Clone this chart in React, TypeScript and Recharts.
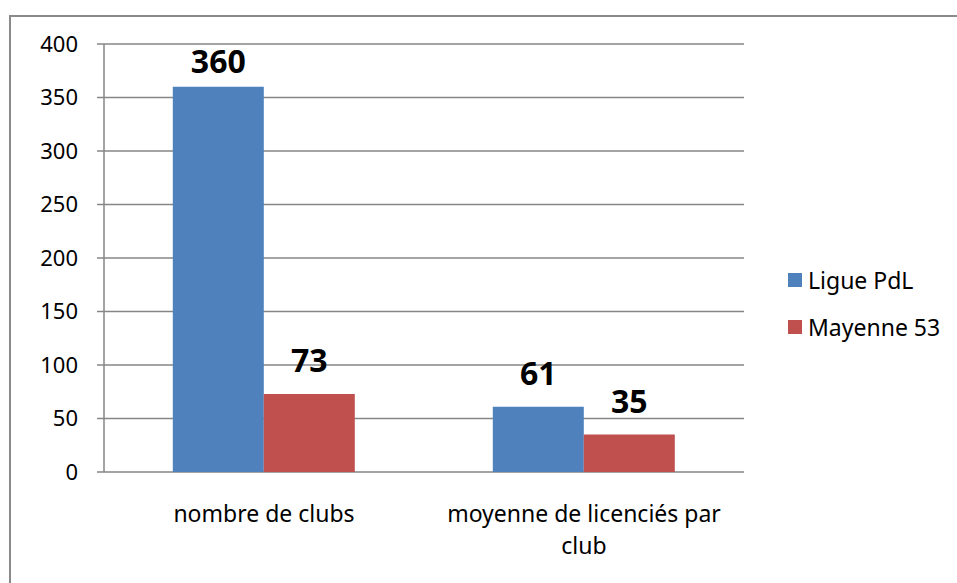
import { BarChart, Bar, XAxis, YAxis, CartesianGrid, LabelList } from "recharts";

const categories = ["nombre de clubs", "moyenne de licenciés par club"];
const liguePdL = [360, 61];
const mayenne53 = [73, 35];
const yTicks = [0, 50, 100, 150, 200, 250, 300, 350, 400];

const BLUE = "#4F81BD";
const RED = "#C0504D";
const GRID = "#868686";
const FONT = "'Noto Sans', sans-serif";
const PLOT_TOP = 44;

const data = categories.map((name, i) => ({
  name,
  idx: i + 0.5,
  ligue: liguePdL[i],
  mayenne: mayenne53[i],
}));

// greedy word wrap, like Excel does for long category names
function wrap(label: string, maxChars: number) {
  const lines: string[] = [];
  let cur = "";
  for (const w of label.split(" ")) {
    const next = cur ? cur + " " + w : w;
    if (next.length > maxChars && cur) {
      lines.push(cur);
      cur = w;
    } else {
      cur = next;
    }
  }
  if (cur) lines.push(cur);
  return lines;
}

const CategoryTick = ({ x, y, payload }: any) => {
  const lines = wrap(String(payload.value), 26);
  return (
    <text x={x} y={y + 42} textAnchor="middle" fontSize={23} fontFamily={FONT} fill="#000">
      {lines.map((l, i) => (
        <tspan key={i} x={x} dy={i === 0 ? 0 : 32}>
          {l}
        </tspan>
      ))}
    </text>
  );
};

// value above the bar; like Excel, kept inside the plot area when the bar is tall
const ValueLabel = ({ x, y, width, value }: any) => {
  const baseline = Math.max(y - 22, PLOT_TOP + 29);
  return (
    <text
      x={x + width / 2}
      y={baseline}
      textAnchor="middle"
      fontSize={32}
      fontWeight="bold"
      fontFamily={FONT}
      fill="#000"
    >
      {value}
    </text>
  );
};

export default function App() {
  return (
    <div style={{ position: "absolute", left: 0, top: 0, width: 957, height: 583, overflow: "hidden", background: "#fff" }}>
      {/* outer frame, only top and left edges are visible */}
      <div
        style={{
          position: "absolute",
          left: 9,
          top: 15,
          width: 1000,
          height: 700,
          borderLeft: "2px solid #8a8a8a",
          borderTop: "2px solid #8a8a8a",
        }}
      />
      <div style={{ position: "absolute", left: 0, top: 0 }}>
        <BarChart
          width={957}
          height={583}
          data={data}
          margin={{ top: PLOT_TOP, right: 213, bottom: 0, left: 0 }}
          barCategoryGap="21.5%"
          barGap={0}
        >
          <CartesianGrid vertical={false} stroke={GRID} strokeWidth={1.5} />
          <XAxis
            dataKey="name"
            interval={0}
            height={111}
            axisLine={false}
            tickLine={false}
            tick={<CategoryTick />}
          />
          {/* second x axis only to draw tick marks at category boundaries */}
          <XAxis
            xAxisId="edges"
            type="number"
            dataKey="idx"
            domain={[0, 2]}
            ticks={[0, 1, 2]}
            height={0}
            tick={false}
            tickSize={8}
            axisLine={{ stroke: GRID, strokeWidth: 1.5 }}
            tickLine={{ stroke: GRID, strokeWidth: 1.5 }}
          />
          <YAxis
            width={104}
            domain={[0, 400]}
            ticks={yTicks}
            interval={0}
            tickSize={7}
            axisLine={{ stroke: GRID, strokeWidth: 1.5 }}
            tickLine={{ stroke: GRID, strokeWidth: 1.5 }}
            tick={{ fontSize: 22, fontFamily: FONT, fill: "#000" }}
            tickMargin={19}
          />
          <Bar dataKey="ligue" fill={BLUE} isAnimationActive={false}>
            <LabelList dataKey="ligue" content={<ValueLabel />} />
          </Bar>
          <Bar dataKey="mayenne" fill={RED} isAnimationActive={false}>
            <LabelList dataKey="mayenne" content={<ValueLabel />} />
          </Bar>
        </BarChart>
      </div>
      {/* legend */}
      {[
        { label: "Ligue PdL", color: BLUE, top: 266 },
        { label: "Mayenne 53", color: RED, top: 313 },
      ].map((item) => (
        <div
          key={item.label}
          style={{
            position: "absolute",
            left: 788,
            top: item.top,
            display: "flex",
            alignItems: "center",
            fontFamily: FONT,
            fontSize: 23,
            color: "#000",
            lineHeight: "28px",
          }}
        >
          <span style={{ display: "inline-block", width: 14, height: 14, background: item.color, marginRight: 6 }} />
          {item.label}
        </div>
      ))}
    </div>
  );
}
